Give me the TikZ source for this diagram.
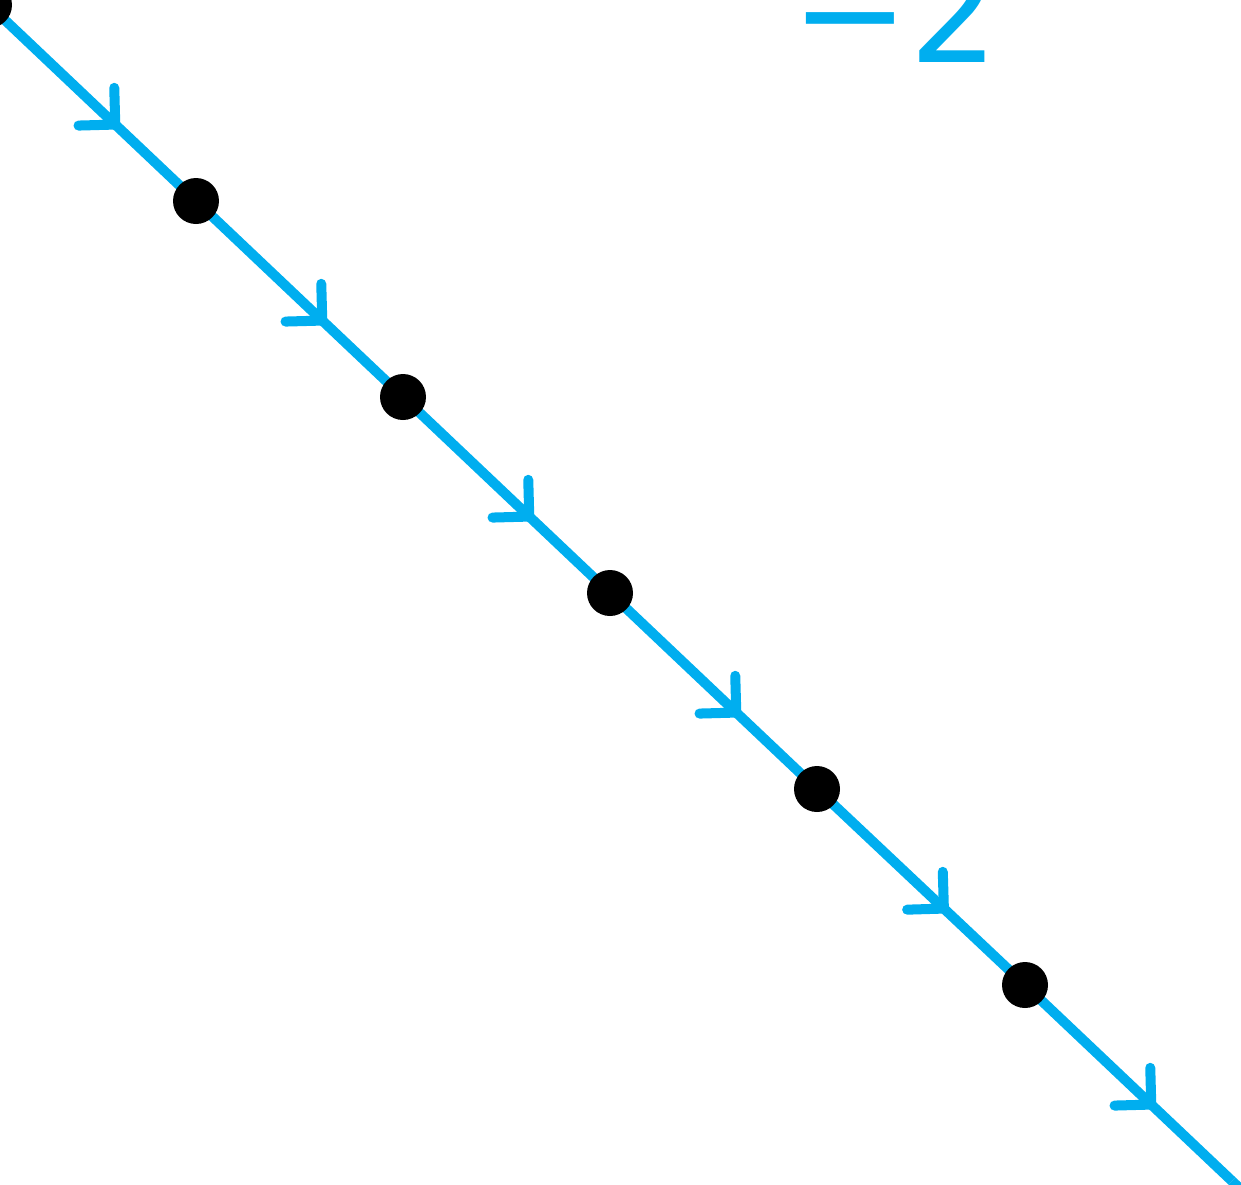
\documentclass[tikz,border=0pt]{standalone}
\usepackage{fontspec}
\usetikzlibrary{decorations.markings}
\newfontfamily\labelfont{DejaVu Sans}
\definecolor{flowblue}{HTML}{00AEEF}

\begin{document}
\begin{tikzpicture}[
  x=0.02cm,y=-0.02cm,
  vtx/.style={circle,fill=black,inner sep=0pt,minimum size=0.92cm},
  flow/.style={draw=flowblue,line width=5.7pt,
    postaction={decorate,decoration={markings,
      mark=at position 0.61 with {\draw[flowblue,line width=5.7pt,line cap=round,line join=round]
        (-0.52cm,0.52cm) -- (0,0) -- (-0.52cm,-0.52cm);}}}},
  lbl/.style={text=flowblue,font=\labelfont\fontsize{80}{80}\selectfont,inner sep=0pt}
]
\useasboundingbox (0,0) rectangle (1241,1184);
\clip (0,0) rectangle (1241,1184);
% points along the line
\coordinate (p0) at (-11,5);
\coordinate (p1) at (196,201);
\coordinate (p2) at (403,397);
\coordinate (p3) at (610,593);
\coordinate (p4) at (817,789);
\coordinate (p5) at (1025,985);
\coordinate (p6) at (1232,1181);
\coordinate (p7) at (1439,1377);
\coordinate (pm) at (-218,-191);

\draw[flow] (pm) -- (p0);
\foreach \a/\b in {p0/p1,p1/p2,p2/p3,p3/p4,p4/p5,p5/p6,p6/p7}
  \draw[flow] (\a) -- (\b);
\foreach \p in {p0,p1,p2,p3,p4,p5}
  \node[vtx] (v\p) at (\p) {};

\node[lbl,anchor=base] (lab) at (895,62) {−2};
\end{tikzpicture}
\end{document}
